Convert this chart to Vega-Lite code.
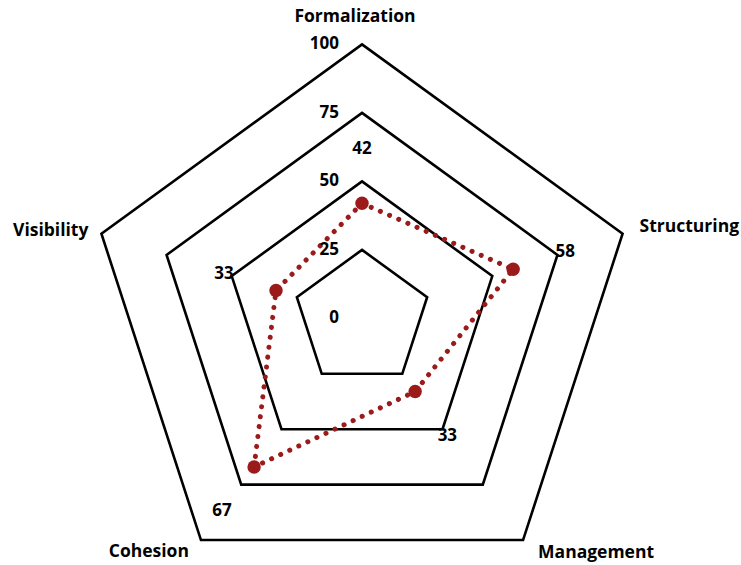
{
  "$schema": "https://vega.github.io/schema/vega-lite/v6.json",
  "width": 741,
  "height": 565,
  "autosize": {"type": "none"},
  "padding": 0,
  "background": "white",
  "config": {
    "view": {"stroke": null},
    "text": {"font": "Open Sans", "fontWeight": "bold", "fontSize": 17, "color": "black"}
  },
  "datasets": {
    "axes": [
      {"axis": "Formalization", "idx": 0, "value": 42},
      {"axis": "Structuring", "idx": 1, "value": 58},
      {"axis": "Management", "idx": 2, "value": 33},
      {"axis": "Cohesion", "idx": 3, "value": 67},
      {"axis": "Visibility", "idx": 4, "value": 33}
    ],
    "grid": [
      {"level": 25, "idx": 0}, {"level": 25, "idx": 1}, {"level": 25, "idx": 2}, {"level": 25, "idx": 3}, {"level": 25, "idx": 4},
      {"level": 50, "idx": 0}, {"level": 50, "idx": 1}, {"level": 50, "idx": 2}, {"level": 50, "idx": 3}, {"level": 50, "idx": 4},
      {"level": 75, "idx": 0}, {"level": 75, "idx": 1}, {"level": 75, "idx": 2}, {"level": 75, "idx": 3}, {"level": 75, "idx": 4},
      {"level": 100, "idx": 0}, {"level": 100, "idx": 1}, {"level": 100, "idx": 2}, {"level": 100, "idx": 3}, {"level": 100, "idx": 4}
    ],
    "levels": [{"level": 0}, {"level": 25}, {"level": 50}, {"level": 75}, {"level": 100}]
  },
  "encoding": {
    "x": {"field": "x", "type": "quantitative", "axis": null, "scale": {"domain": [-132.12, 138.32], "nice": false, "zero": false}},
    "y": {"field": "y", "type": "quantitative", "axis": null, "scale": {"domain": [-90.0, 116.2], "nice": false, "zero": false}}
  },
  "layer": [
    {
      "data": {"name": "grid"},
      "transform": [
        {"calculate": "datum.level*sin(datum.idx*2*PI/5)", "as": "x"},
        {"calculate": "datum.level*cos(datum.idx*2*PI/5)", "as": "y"}
      ],
      "mark": {"type": "line", "interpolate": "linear-closed", "color": "black", "strokeWidth": 2.6, "strokeJoin": "miter"},
      "encoding": {"detail": {"field": "level"}, "order": {"field": "idx", "type": "quantitative"}}
    },
    {
      "data": {"name": "axes"},
      "transform": [
        {"calculate": "datum.value*sin(datum.idx*2*PI/5)", "as": "x"},
        {"calculate": "datum.value*cos(datum.idx*2*PI/5)", "as": "y"}
      ],
      "mark": {"type": "line", "interpolate": "linear-closed", "color": "#9b1b1b", "strokeWidth": 5, "strokeDash": [0.1, 9.9], "strokeCap": "round"},
      "encoding": {"order": {"field": "idx", "type": "quantitative"}}
    },
    {
      "data": {"name": "axes"},
      "transform": [
        {"calculate": "datum.value*sin(datum.idx*2*PI/5)", "as": "x"},
        {"calculate": "datum.value*cos(datum.idx*2*PI/5)", "as": "y"}
      ],
      "mark": {"type": "circle", "color": "#9b1b1b", "opacity": 1, "size": 180}
    },
    {
      "data": {"name": "axes"},
      "transform": [
        {"calculate": "(datum.value+20)*sin(datum.idx*2*PI/5)", "as": "x"},
        {"calculate": "(datum.value+20)*cos(datum.idx*2*PI/5)", "as": "y"}
      ],
      "mark": {"type": "text", "align": "center", "baseline": "middle"},
      "encoding": {"text": {"field": "value", "type": "quantitative"}}
    },
    {
      "data": {"name": "levels"},
      "transform": [
        {"calculate": "0", "as": "x"},
        {"calculate": "datum.level", "as": "y"}
      ],
      "mark": {"type": "text", "align": "right", "baseline": "middle", "dx": -23},
      "encoding": {"text": {"field": "level", "type": "quantitative"}}
    },
    {
      "data": {"name": "axes"},
      "transform": [
        {"filter": "datum.idx == 0"},
        {"calculate": "100*sin(datum.idx*2*PI/5)", "as": "x"},
        {"calculate": "100*cos(datum.idx*2*PI/5)", "as": "y"}
      ],
      "mark": {"type": "text", "align": "center", "baseline": "middle", "dx": -7, "dy": -27, "fontSize": 17.5},
      "encoding": {"text": {"field": "axis"}}
    },
    {
      "data": {"name": "axes"},
      "transform": [
        {"filter": "datum.idx == 1"},
        {"calculate": "100*sin(datum.idx*2*PI/5)", "as": "x"},
        {"calculate": "100*cos(datum.idx*2*PI/5)", "as": "y"}
      ],
      "mark": {"type": "text", "align": "left", "baseline": "middle", "dx": 17, "dy": -7, "fontSize": 17.5},
      "encoding": {"text": {"field": "axis"}}
    },
    {
      "data": {"name": "axes"},
      "transform": [
        {"filter": "datum.idx == 2"},
        {"calculate": "100*sin(datum.idx*2*PI/5)", "as": "x"},
        {"calculate": "100*cos(datum.idx*2*PI/5)", "as": "y"}
      ],
      "mark": {"type": "text", "align": "left", "baseline": "middle", "dx": 15, "dy": 13, "fontSize": 17.5},
      "encoding": {"text": {"field": "axis"}}
    },
    {
      "data": {"name": "axes"},
      "transform": [
        {"filter": "datum.idx == 3"},
        {"calculate": "100*sin(datum.idx*2*PI/5)", "as": "x"},
        {"calculate": "100*cos(datum.idx*2*PI/5)", "as": "y"}
      ],
      "mark": {"type": "text", "align": "right", "baseline": "middle", "dx": -12, "dy": 12, "fontSize": 17.5},
      "encoding": {"text": {"field": "axis"}}
    },
    {
      "data": {"name": "axes"},
      "transform": [
        {"filter": "datum.idx == 4"},
        {"calculate": "100*sin(datum.idx*2*PI/5)", "as": "x"},
        {"calculate": "100*cos(datum.idx*2*PI/5)", "as": "y"}
      ],
      "mark": {"type": "text", "align": "right", "baseline": "middle", "dx": -13, "dy": -3, "fontSize": 17.5},
      "encoding": {"text": {"field": "axis"}}
    }
  ]
}
